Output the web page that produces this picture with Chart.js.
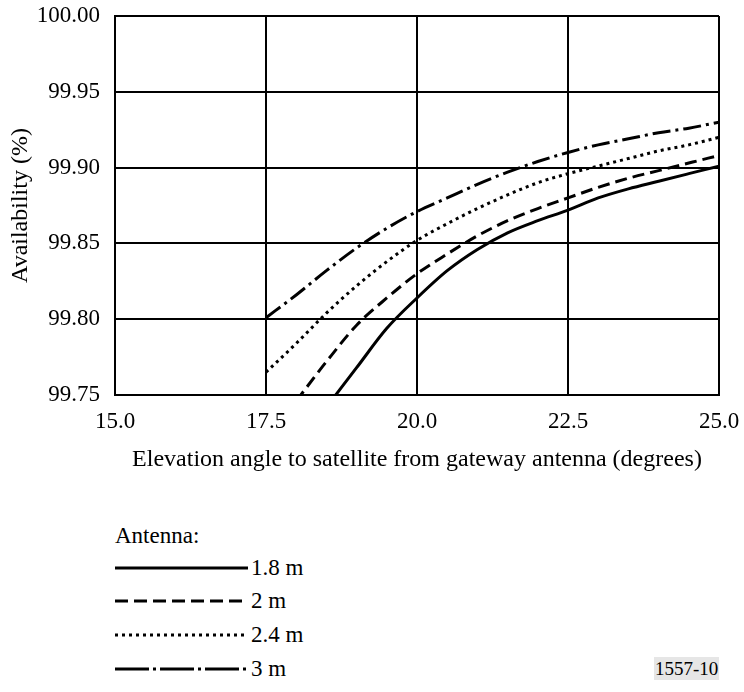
<!DOCTYPE html>
<html lang="en">
<head>
  <meta charset="UTF-8" />
  <title>Availability vs elevation angle</title>
  <script src="https://cdn.jsdelivr.net/npm/chart.js"></script>
  <style>
    body { margin: 0; background: #fff; font-family: "Liberation Serif", "Times New Roman", serif; color: #000; }
    .wrap { position: relative; width: 744px; height: 692px; }
    canvas { position: absolute; left: 0; top: 0; }
    .lbl { position: absolute; font-size: 23px; line-height: 26px; white-space: nowrap; }
    .row { position: absolute; left: 115px; height: 26px; }
    .row svg { position: absolute; left: 0; top: 0; }
    .row span { position: absolute; left: 136px; top: 0; font-size: 23px; line-height: 26px; white-space: nowrap; }
    .code { position: absolute; left: 654px; top: 657px; font-size: 19px; line-height: 23px; background: #e6e6e6; padding: 0 1px; }
  </style>
</head>
<body>
  <div class="wrap">
    <canvas id="chart" width="744" height="490"></canvas>
    <div class="lbl" style="left:115px; top:523px;">Antenna:</div>
    <div id="legend"></div>
    <div class="code">1557-10</div>
  </div>

  <script>
    // values
    const labels = ["1.8 m", "2 m", "2.4 m", "3 m"];

    const elev18 = [18.5, 19, 19.5, 20, 20.5, 21, 21.5, 22, 22.5, 23, 23.5, 24, 24.5, 25];
    const avail18 = [99.742, 99.768, 99.794, 99.814, 99.832, 99.846, 99.857, 99.865, 99.872, 99.880, 99.886, 99.891, 99.896, 99.901];

    const elev2 = [18, 18.5, 19, 19.5, 20, 20.5, 21, 21.5, 22, 22.5, 23, 23.5, 24, 24.5, 25];
    const avail2 = [99.746, 99.772, 99.796, 99.814, 99.830, 99.843, 99.855, 99.865, 99.873, 99.880, 99.887, 99.893, 99.898, 99.903, 99.908];

    const elev24 = [17.5, 18, 18.5, 19, 19.5, 20, 20.5, 21, 21.5, 22, 22.5, 23, 23.5, 24, 24.5, 25];
    const avail24 = [99.765, 99.784, 99.804, 99.822, 99.838, 99.852, 99.863, 99.873, 99.882, 99.890, 99.896, 99.901, 99.906, 99.911, 99.915, 99.920];

    const elev3 = [17.5, 18, 18.5, 19, 19.5, 20, 20.5, 21, 21.5, 22, 22.5, 23, 23.5, 24, 24.5, 25];
    const avail3 = [99.801, 99.816, 99.832, 99.847, 99.860, 99.871, 99.880, 99.889, 99.897, 99.904, 99.910, 99.915, 99.919, 99.923, 99.926, 99.930];

    const xTicks = [15.0, 17.5, 20.0, 22.5, 25.0];
    const yTicks = [99.75, 99.80, 99.85, 99.90, 99.95, 100.00];

    const dashes = [[], [12, 6], [3, 4], [18, 5, 3, 5]];
    const legendDashes = [[], [13, 6], [3, 4], [34, 4, 3, 4]];

    const toPoints = (xs, ys) => xs.map((x, i) => ({ x: x, y: ys[i] }));
    const series = [toPoints(elev18, avail18), toPoints(elev2, avail2), toPoints(elev24, avail24), toPoints(elev3, avail3)];

    const tickFont = { family: "'Liberation Serif', 'Times New Roman', serif", size: 23 };
    const titleFont = { family: "'Liberation Serif', 'Times New Roman', serif", size: 24 };

    new Chart(document.getElementById("chart"), {
      type: "line",
      data: {
        datasets: series.map((pts, i) => ({
          label: labels[i],
          data: pts,
          borderColor: "#000",
          borderWidth: 3,
          borderDash: dashes[i],
          pointRadius: 0,
          cubicInterpolationMode: "monotone",
          fill: false,
          clip: 0
        }))
      },
      options: {
        responsive: false,
        animation: false,
        layout: { padding: { top: 16, right: 25, left: 0, bottom: 0 } },
        plugins: { legend: { display: false }, tooltip: { enabled: false } },
        scales: {
          x: {
            type: "linear",
            min: 15, max: 25,
            afterBuildTicks: (s) => { s.ticks = xTicks.map(v => ({ value: v })); },
            afterFit: (s) => { s.height = 95; s.paddingLeft = 0; s.paddingRight = 0; },
            ticks: { color: "#000", font: tickFont, padding: 13, maxRotation: 0, callback: (v) => Number(v).toFixed(1) },
            grid: { color: "#000", lineWidth: 2, drawTicks: false },
            border: { color: "#000", width: 2 },
            title: { display: true, text: "Elevation angle to satellite from gateway antenna (degrees)", color: "#000", font: titleFont, padding: { top: 0, bottom: 16 } }
          },
          y: {
            min: 99.75, max: 100,
            afterBuildTicks: (s) => { s.ticks = yTicks.map(v => ({ value: v })); },
            afterFit: (s) => { s.width = 115; s.paddingTop = 0; s.paddingBottom = 0; },
            ticks: { color: "#000", font: tickFont, padding: 15, callback: (v) => Number(v).toFixed(2) },
            grid: { color: "#000", lineWidth: 2, drawTicks: false },
            border: { color: "#000", width: 2 },
            title: { display: true, text: "Availability (%)", color: "#000", font: titleFont, padding: { top: 6, bottom: 0 } }
          }
        }
      }
    });

    // legend below the chart, same line styles as the series
    const legendTops = [555, 588, 622, 656];
    document.getElementById("legend").innerHTML = labels.map((label, i) => `
      <div class="row" style="top:${legendTops[i]}px">
        <svg width="134" height="26"><line x1="0" y1="13" x2="133" y2="13" stroke="#000" stroke-width="3" stroke-dasharray="${legendDashes[i].join(" ")}"/></svg>
        <span>${label}</span>
      </div>
    `).join("");
  </script>
</body>
</html>
